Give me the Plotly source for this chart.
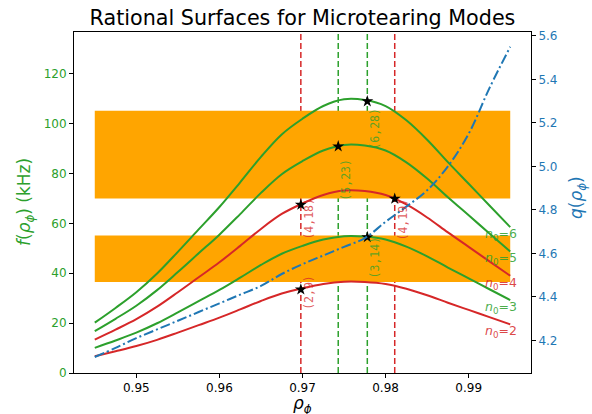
import plotly.graph_objects as go

# ---- data ----
rho = [0.9450, 0.9475, 0.9500, 0.9525, 0.9550, 0.9575, 0.9600, 0.9625, 0.9650, 0.9675,
       0.9700, 0.9725, 0.9750, 0.9775, 0.9800, 0.9825, 0.9850, 0.9875, 0.9900, 0.9925, 0.9950]

f_n2 = [6.7, 8.7, 10.8, 13.3, 16.2, 19.2, 22.2, 25.5, 28.9, 31.9,
        34.0, 35.7, 36.6, 36.5, 35.7, 33.8, 31.2, 28.2, 25.3, 22.4, 19.5]
f_n3 = [10.1, 13.05, 16.2, 19.95, 24.3, 28.8, 33.3, 38.25, 43.35, 47.85,
        51.0, 53.55, 54.9, 54.75, 53.55, 50.7, 46.8, 42.3, 37.95, 33.6, 29.25]
f_n4 = [13.4, 17.4, 21.6, 26.6, 32.4, 38.4, 44.4, 51.0, 57.8, 63.8,
        68.0, 71.4, 73.2, 73.0, 71.4, 67.6, 62.4, 56.4, 50.6, 44.8, 39.0]
f_n5 = [16.8, 21.75, 27.0, 33.25, 40.5, 48.0, 55.5, 63.75, 72.25, 79.75,
        85.0, 89.25, 91.5, 91.25, 89.25, 84.5, 78.0, 70.5, 63.25, 56.0, 48.75]
f_n6 = [20.2, 26.1, 32.4, 39.9, 48.6, 57.6, 66.6, 76.5, 86.7, 95.7,
        102.0, 107.1, 109.8, 109.5, 107.1, 101.4, 93.6, 84.6, 75.9, 67.2, 58.5]

q_vals = [4.123, 4.165, 4.21, 4.25, 4.29, 4.33, 4.37, 4.41, 4.45, 4.505,
          4.55, 4.59, 4.63, 4.67, 4.745, 4.815, 4.89, 5.00, 5.15, 5.36, 5.55]

series_n0 = [2, 3, 4, 5, 6]

# frequency bands (kHz)
band_low = [36.5, 70.0]
band_high = [55.2, 105.2]
band_x0 = 0.945
band_x1 = 0.995

# rational surfaces: (n0, m) labels, radial position, frequency at marker
rat_labels = ["(2,9)", "(4,18)", "(5,23)", "(6,28)", "(3,14)", "(4,19)"]
rat_rho = [0.9698, 0.9698, 0.9743, 0.9778, 0.9778, 0.9811]
rat_f = [33.5, 67.5, 90.9, 109.0, 54.5, 69.9]
rat_n0 = [2, 4, 5, 6, 3, 4]

vline_rho = [0.9698, 0.9743, 0.9778, 0.9811]
vline_n0 = [2, 5, 3, 4]

xticks = [0.95, 0.96, 0.97, 0.98, 0.99]
yticks_left = [0, 20, 40, 60, 80, 100, 120]
yticks_right = [4.2, 4.4, 4.6, 4.8, 5.0, 5.2, 5.4, 5.6]

RED = "#d62728"
GREEN = "#2ca02c"
BLUE = "#1f77b4"
ORANGE = "#ffa500"
N0_COLOR = {2: RED, 3: GREEN, 4: RED, 5: GREEN, 6: GREEN}


def rgba(hexc, a):
    h = hexc.lstrip("#")
    r, g, b = int(h[0:2], 16), int(h[2:4], 16), int(h[4:6], 16)
    return f"rgba({r},{g},{b},{a})"


# plot-area geometry in pixels
L, R, T, B = 74, 531, 32, 373
W, H = 592, 414


def px_x(px):
    return (px - L) / (R - L)


def px_y(py):
    return (B - py) / (B - T)


fig = go.Figure()

shapes = []
for lo, hi in zip(band_low, band_high):
    shapes.append(dict(type="rect", xref="x", yref="y", x0=band_x0, x1=band_x1,
                       y0=lo, y1=hi, fillcolor=ORANGE, line=dict(width=0), layer="below"))
for xr, n0 in zip(vline_rho, vline_n0):
    shapes.append(dict(type="line", xref="x", yref="paper", x0=xr, x1=xr, y0=0, y1=1,
                       line=dict(color=N0_COLOR[n0], width=1.5, dash="6px,3px"), layer="below"))

all_f = [f_n2, f_n3, f_n4, f_n5, f_n6]
for n0, fv in zip(series_n0, all_f):
    fig.add_trace(go.Scatter(x=rho, y=fv, mode="lines", name=f"n0={n0}",
                             line=dict(color=N0_COLOR[n0], width=2, shape="spline"),
                             showlegend=False, hoverinfo="skip"))

fig.add_trace(go.Scatter(x=rat_rho, y=rat_f, mode="markers",
                         marker=dict(symbol="star", size=9, color="black"),
                         showlegend=False, hoverinfo="skip"))

fig.add_trace(go.Scatter(x=rho, y=q_vals, mode="lines", yaxis="y2",
                         line=dict(color=BLUE, width=2, dash="10px,3px,2px,3px", shape="spline"),
                         showlegend=False, hoverinfo="skip"))

annotations = []
label_shift = [17, 9, -10, -4, 3, 2]
for lab, xr, fy, n0, sh in zip(rat_labels, rat_rho, rat_f, rat_n0, label_shift):
    annotations.append(dict(x=xr, y=fy, xref="x", yref="y", text=lab, showarrow=False,
                            textangle=-90, xanchor="left", yanchor="top", yshift=sh, xshift=-1,
                            font=dict(family="DejaVu Sans Mono", size=11.5,
                                      color=rgba(N0_COLOR[n0], 0.75))))
for n0, fv in zip(series_n0, all_f):
    annotations.append(dict(x=rho[-1], y=fv[-1], xref="x", yref="y",
                            text=f"<i>n</i><sub>0</sub>={n0}", showarrow=False,
                            xanchor="right", yanchor="top", yshift=3, xshift=9,
                            font=dict(family="DejaVu Sans", size=12.5,
                                      color=rgba(N0_COLOR[n0], 0.85))))

# axis titles as annotations for exact placement
annotations.append(dict(x=px_x(302.5), y=px_y(404), xref="paper", yref="paper",
                        text="<i>ρ</i><sub><i>ϕ</i></sub>", showarrow=False,
                        xanchor="center", yanchor="middle",
                        font=dict(family="DejaVu Sans", size=17, color="black")))
annotations.append(dict(x=px_x(25), y=px_y(202), xref="paper", yref="paper",
                        text="<i>f</i>(<i>ρ</i><sub><i>ϕ</i></sub>) (kHz)", showarrow=False,
                        textangle=-90, xanchor="center", yanchor="middle",
                        font=dict(family="DejaVu Sans", size=17, color=GREEN)))
annotations.append(dict(x=px_x(577), y=px_y(198), xref="paper", yref="paper",
                        text="<i>q</i>(<i>ρ</i><sub><i>ϕ</i></sub>)", showarrow=False,
                        textangle=-90, xanchor="center", yanchor="middle",
                        font=dict(family="DejaVu Sans", size=17, color=BLUE)))

fig.update_layout(
    width=W, height=H,
    margin=dict(l=L, r=W - R, t=T, b=H - B, autoexpand=False),
    paper_bgcolor="white", plot_bgcolor="white",
    font=dict(family="DejaVu Sans", size=12, color="black"),
    title=dict(text="Rational Surfaces for Microtearing Modes", x=(L + R) / 2 / W,
               xanchor="center", y=1 - 18 / H, yanchor="middle", yref="container",
               font=dict(size=20.7, color="black")),
    shapes=shapes,
    annotations=annotations,
    xaxis=dict(range=[0.9425, 0.9975], tickvals=xticks, tickformat=".2f",
               showline=True, linecolor="black", linewidth=1, mirror=True,
               ticks="outside", ticklen=4, tickcolor="black", showgrid=False, zeroline=False,
               tickfont=dict(size=12, color="black"), automargin=False),
    yaxis=dict(range=[0, 136.8], tickvals=yticks_left,
               showline=True, linecolor="black", linewidth=1,
               ticks="outside", ticklen=4, tickcolor="black", showgrid=False, zeroline=False,
               tickfont=dict(size=12, color=GREEN), automargin=False),
    yaxis2=dict(range=[4.0496, 5.618], tickvals=yticks_right, tickformat=".1f",
                overlaying="y", side="right",
                showline=True, linecolor="black", linewidth=1,
                ticks="outside", ticklen=4, tickcolor="black", showgrid=False, zeroline=False,
                tickfont=dict(size=12, color=BLUE), automargin=False),
)

fig.write_html("out.html", config={"displayModeBar": False},
               post_script="document.body.style.margin='0';document.body.style.overflow='hidden';")
